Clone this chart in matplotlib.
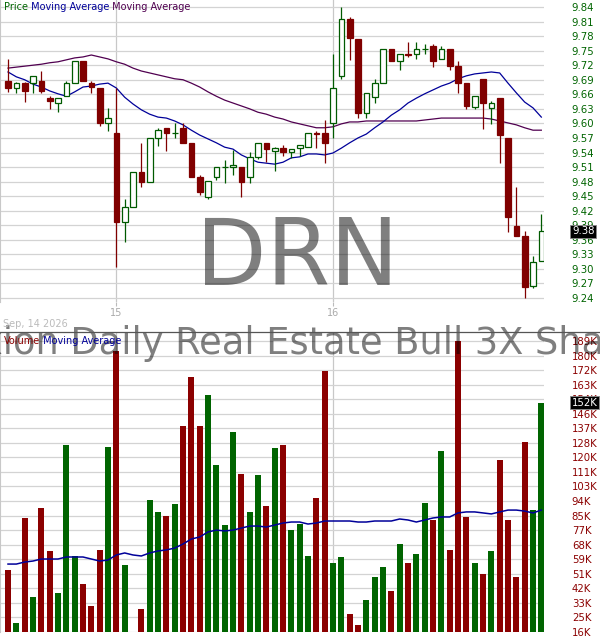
import numpy as np
import matplotlib.pyplot as plt
from matplotlib.transforms import IdentityTransform
from matplotlib.lines import Line2D

# 15-minute candles, two sessions (15th and 16th)
opens = [9.687, 9.673, 9.683, 9.683, 9.687, 9.652, 9.642, 9.656, 9.683, 9.729,
         9.683, 9.673, 9.601, 9.580, 9.397, 9.428, 9.500, 9.479, 9.570, 9.590,
         9.580, 9.590, 9.560, 9.489, 9.448, 9.489, 9.510, 9.510, 9.510, 9.489,
         9.531, 9.560, 9.543, 9.549, 9.541, 9.549, 9.551, 9.581, 9.580, 9.601,
         9.698, 9.815, 9.774, 9.621, 9.654, 9.683, 9.753, 9.729, 9.744, 9.743,
         9.753, 9.760, 9.733, 9.753, 9.718, 9.683, 9.634, 9.692, 9.632, 9.652,
         9.570, 9.388, 9.368, 9.265, 9.316]
highs = [9.733, 9.685, 9.685, 9.698, 9.708, 9.656, 9.652, 9.687, 9.729, 9.729,
         9.687, 9.673, 9.632, 9.673, 9.444, 9.500, 9.560, 9.570, 9.590, 9.590,
         9.601, 9.601, 9.560, 9.494, 9.481, 9.510, 9.524, 9.545, 9.510, 9.541,
         9.560, 9.560, 9.551, 9.555, 9.547, 9.555, 9.580, 9.584, 9.607, 9.743,
         9.840, 9.819, 9.774, 9.663, 9.692, 9.753, 9.753, 9.743, 9.768, 9.768,
         9.764, 9.764, 9.760, 9.753, 9.729, 9.683, 9.656, 9.692, 9.646, 9.652,
         9.570, 9.469, 9.378, 9.327, 9.413]
lows = [9.665, 9.663, 9.644, 9.663, 9.663, 9.630, 9.623, 9.656, 9.683, 9.687,
        9.663, 9.595, 9.584, 9.304, 9.355, 9.428, 9.469, 9.479, 9.553, 9.543,
        9.570, 9.560, 9.489, 9.452, 9.444, 9.483, 9.477, 9.494, 9.448, 9.477,
        9.527, 9.520, 9.502, 9.533, 9.529, 9.533, 9.551, 9.549, 9.518, 9.570,
        9.692, 9.731, 9.611, 9.611, 9.642, 9.683, 9.729, 9.710, 9.737, 9.733,
        9.743, 9.716, 9.733, 9.710, 9.663, 9.630, 9.630, 9.588, 9.599, 9.518,
        9.376, 9.368, 9.240, 9.261, 9.316]
closes = [9.673, 9.683, 9.667, 9.698, 9.667, 9.646, 9.652, 9.683, 9.729, 9.687,
          9.675, 9.601, 9.611, 9.397, 9.428, 9.500, 9.479, 9.570, 9.586, 9.580,
          9.581, 9.560, 9.489, 9.459, 9.481, 9.510, 9.511, 9.514, 9.479, 9.531,
          9.560, 9.547, 9.549, 9.541, 9.547, 9.555, 9.580, 9.579, 9.560, 9.673,
          9.815, 9.776, 9.621, 9.663, 9.683, 9.753, 9.729, 9.743, 9.742, 9.753,
          9.754, 9.729, 9.753, 9.718, 9.683, 9.636, 9.656, 9.642, 9.642, 9.576,
          9.407, 9.368, 9.263, 9.314, 9.378]

ma_fast = [9.706, 9.696, 9.690, 9.681, 9.675, 9.667, 9.661, 9.656, 9.665, 9.675,
           9.677, 9.681, 9.683, 9.673, 9.654, 9.640, 9.628, 9.619, 9.613, 9.611,
           9.605, 9.597, 9.586, 9.576, 9.568, 9.560, 9.551, 9.547, 9.535, 9.527,
           9.520, 9.518, 9.516, 9.520, 9.529, 9.531, 9.537, 9.537, 9.535, 9.539,
           9.549, 9.560, 9.570, 9.578, 9.591, 9.603, 9.617, 9.628, 9.642, 9.652,
           9.661, 9.669, 9.677, 9.683, 9.692, 9.698, 9.702, 9.704, 9.706, 9.704,
           9.683, 9.663, 9.644, 9.632, 9.613]
ma_slow = [9.714, 9.716, 9.718, 9.720, 9.722, 9.725, 9.727, 9.731, 9.735, 9.737,
           9.741, 9.737, 9.733, 9.727, 9.722, 9.714, 9.708, 9.704, 9.700, 9.696,
           9.692, 9.690, 9.683, 9.675, 9.665, 9.656, 9.648, 9.642, 9.636, 9.630,
           9.623, 9.619, 9.613, 9.609, 9.603, 9.599, 9.595, 9.591, 9.591, 9.593,
           9.599, 9.603, 9.603, 9.605, 9.605, 9.605, 9.605, 9.605, 9.605, 9.605,
           9.607, 9.609, 9.611, 9.611, 9.611, 9.611, 9.611, 9.611, 9.609, 9.605,
           9.601, 9.597, 9.591, 9.586, 9.586]

# volume in thousands
volume = [52.9, 21.4, 83.8, 36.8, 89.7, 64.2, 39.2, 127.2, 61.2, 44.5,
          31.5, 64.8, 126.0, 183.1, 55.8, 14.0, 29.7, 94.5, 87.4, 85.0,
          92.1, 138.5, 167.6, 138.5, 156.9, 115.3, 79.6, 134.9, 110.0, 87.4,
          109.4, 90.9, 125.4, 127.2, 76.6, 80.2, 61.2, 95.7, 171.2, 57.0,
          60.6, 26.7, 20.2, 35.0, 48.7, 54.6, 40.4, 68.3, 57.0, 62.4,
          92.7, 82.6, 123.6, 64.8, 189.0, 84.4, 57.0, 50.5, 64.2, 118.3,
          82.6, 48.7, 129.0, 88.5, 152.2]
vol_ma = [56.4, 56.4, 57.6, 58.2, 59.4, 59.4, 59.4, 60.6, 60.6, 60.6,
          59.4, 58.2, 58.8, 61.8, 63.0, 61.8, 61.2, 63.0, 64.2, 64.8,
          65.9, 68.3, 71.3, 72.5, 75.5, 76.6, 76.1, 76.6, 77.8, 79.0,
          79.0, 78.4, 79.6, 80.8, 81.4, 81.4, 80.2, 80.8, 82.0, 82.0,
          82.0, 82.0, 81.4, 81.4, 82.0, 82.0, 82.0, 83.2, 82.6, 81.4,
          82.6, 83.8, 84.4, 84.4, 86.8, 87.4, 87.4, 86.8, 86.2, 87.4,
          88.5, 88.5, 87.9, 86.8, 88.5]

price_ticks = [round(9.24 + 0.03 * i, 2) for i in range(21)]
vol_ticks = [16 + 8.652 * i for i in range(21)]
day_pos = [13, 39]
day_labels = ['15', '16']
date_text = 'Sep, 14 2026'
symbol = 'DRN'
fund_name = 'Direxion Daily Real Estate Bull 3X Shares'

UP = '#005a00'
DOWN = '#800000'
VUP = '#006400'
VDOWN = '#8b0000'
GRID = '#d3d3d3'

W, H = 600, 640
fig = plt.figure(figsize=(6, 6.4), dpi=100)
fig.patch.set_facecolor('white')

ax_p = fig.add_axes([0, (H - 302) / H, 544 / W, 302 / H])
ax_v = fig.add_axes([0, (H - 632) / H, 544 / W, 300 / H])

x = np.arange(len(opens))
o = np.array(opens); c = np.array(closes)
hi = np.array(highs); lo = np.array(lows)
up = c >= o

for ax in (ax_p, ax_v):
    ax.set_xlim(-0.96, 64.32)
    for s in ('top', 'right', 'bottom'):
        ax.spines[s].set_visible(False)
    ax.spines['left'].set_color('#c8c8c8')
    ax.set_axisbelow(True)
    ax.grid(axis='y', color=GRID, lw=0.9)
    for d in day_pos:
        ax.axvline(d, color='#c8c8c8', lw=0.9, zorder=0.5)
    ax.yaxis.tick_right()

# price panel
ax_p.set_ylim(9.2318, 9.8544)
ax_p.set_yticks(price_ticks)
ax_p.set_yticklabels([f'{t:.2f}' for t in price_ticks])
ax_p.tick_params(axis='y', length=0, pad=20, labelsize=7.3, labelcolor='#006400')
ax_p.set_xticks(day_pos)
ax_p.set_xticklabels(day_labels)
ax_p.tick_params(axis='x', length=3, color='#bbbbbb', labelsize=7, labelcolor='#aaaaaa', pad=1)

ax_p.plot(x, ma_slow, color='#500050', lw=0.9, zorder=2)
ax_p.plot(x, ma_fast, color='#000099', lw=0.9, zorder=2)

ax_p.vlines(x, lo, hi, colors=np.where(up, UP, DOWN), lw=0.9, zorder=3)
body_h = np.maximum(np.abs(c - o), 0.0008)
ax_p.bar(x, body_h, bottom=np.minimum(o, c), width=0.68,
         color=np.where(up, 'white', DOWN), edgecolor=np.where(up, UP, DOWN),
         lw=0.9, zorder=4)

ax_p.text(572 / 544, closes[-1], f'{closes[-1]:.2f}', transform=ax_p.get_yaxis_transform(),
          ha='left', va='center', fontsize=7.3, color='white', zorder=10, clip_on=False,
          bbox=dict(boxstyle='square,pad=0.15', fc='black', ec='#888888', lw=0.6))

# volume panel
ax_v.set_ylim(16, 194.39)
ax_v.set_yticks(vol_ticks)
ax_v.set_yticklabels([f'{int(round(t))}K' for t in vol_ticks])
ax_v.tick_params(axis='y', length=0, pad=20, labelsize=7.3, labelcolor='#8b0000')
ax_v.set_xticks([])
ax_v.bar(x, volume, width=0.72, color=np.where(up, VUP, VDOWN), zorder=3)
ax_v.plot(x, vol_ma, color='#000099', lw=1.1, zorder=4)
ax_v.text(572 / 544, volume[-1], f'{int(round(volume[-1]))}K', transform=ax_v.get_yaxis_transform(),
          ha='left', va='center', fontsize=7.3, color='white', zorder=10, clip_on=False,
          bbox=dict(boxstyle='square,pad=0.15', fc='black', ec='#888888', lw=0.6))

# watermarks
px = IdentityTransform()
fig.text(297, H - 285, symbol, transform=px, ha='center', va='baseline',
         fontsize=66, color='black', alpha=0.5, zorder=1)
fig.text(283, H - 354, fund_name, transform=px, ha='center', va='baseline',
         fontsize=26.5, color='black', alpha=0.5, zorder=1)

# panel separator
fig.add_artist(Line2D([0, 1], [(H - 332) / H] * 2, color='#555555', lw=0.9))

fig.text(3, H - 327, date_text, transform=px, fontsize=7, color='#bbbbbb', va='baseline')

renderer = fig.canvas.get_renderer()


def chain(x0, y0, parts):
    for s, col in parts:
        t = fig.text(x0, y0, s, transform=px, fontsize=7, color=col, va='baseline', zorder=5)
        x0 = t.get_window_extent(renderer).x1


chain(4, H - 10, [('Price', '#006400'), (' Moving Average', '#000099'),
                  (' Moving Average', '#500050')])
chain(4, H - 344, [('Volume', '#8b0000'), (' Moving Average', '#000099')])

fig.savefig('out.png', dpi=100)
